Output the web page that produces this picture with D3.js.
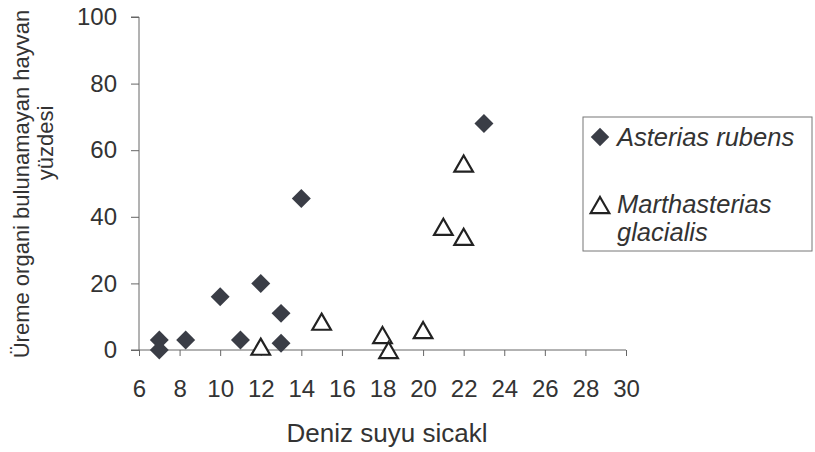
<!DOCTYPE html>
<html><head><meta charset="utf-8">
<script src="https://cdn.jsdelivr.net/npm/d3@7"></script>
<style>body{margin:0;background:#fff}svg{display:block}text{font-family:"Liberation Sans",Arial,sans-serif;fill:#333}</style>
</head><body><svg id="c" width="815" height="452"></svg>
<script>
const asteriasX = [7, 7, 8.3, 10, 11, 12, 13, 13, 14, 23];
const asteriasY = [3, 0, 3, 16, 3, 20, 11, 2, 45.5, 68];
const marthX = [12, 15, 18, 18.3, 20, 21, 22, 22];
const marthY = [1, 8.5, 4.5, 0, 6, 37, 34, 56];
const xTicks = [6, 8, 10, 12, 14, 16, 18, 20, 22, 24, 26, 28, 30];
const yTicks = [0, 20, 40, 60, 80, 100];
const seriesNames = ["Asterias rubens", "Marthasterias", "glacialis"];
const xTitle = "Deniz suyu sicakl";
const yTitle = ["Üreme organi bulunamayan hayvan", "yüzdesi"];

const svg = d3.select("#c");
const x = d3.scaleLinear().domain([6, 30]).range([139, 626]);
const y = d3.scaleLinear().domain([0, 100]).range([350, 17]);
const axisColor = "#666";

const gx = svg.append("g").attr("transform", `translate(0,${y(0)})`)
  .call(d3.axisBottom(x).tickValues(xTicks).tickSize(6).tickPadding(8).tickFormat(d3.format("d")));
gx.select(".domain").attr("stroke", axisColor).attr("d", `M${x(6)-8},0H${x(30)}`);
gx.selectAll(".tick line").attr("stroke", axisColor);
gx.selectAll(".tick text").attr("font-size", 24).attr("dy", null).attr("y", 47).style("fill", "#333");

const gy = svg.append("g").attr("transform", `translate(${x(6)},0)`)
  .call(d3.axisLeft(y).tickValues(yTicks).tickSize(8).tickPadding(14));
gy.select(".domain").attr("stroke", axisColor).attr("d", `M-8,${y(100)}H0V${y(0)}`);
gy.selectAll(".tick line").attr("stroke", axisColor);
gy.selectAll(".tick text").attr("font-size", 24).style("fill", "#333");

const diamond = d3.symbol().type(d3.symbolSquare).size(180);
const tri = d3.symbol().type(d3.symbolTriangle).size(150);
const triShift = Math.sqrt(150 / (3 * Math.sqrt(3))) / 2;

svg.append("g").selectAll("path").data(asteriasX.map((d, i) => [d, asteriasY[i]])).join("path")
  .attr("d", diamond).attr("transform", d => `translate(${x(d[0])},${y(d[1])}) rotate(45)`)
  .attr("fill", "#3a3d46");

svg.append("g").selectAll("path").data(marthX.map((d, i) => [d, marthY[i]])).join("path")
  .attr("d", tri).attr("transform", d => `translate(${x(d[0])},${y(d[1]) + triShift})`)
  .attr("fill", "#fff").attr("stroke", "#222").attr("stroke-width", 2.2);

// legend
const lg = svg.append("g");
lg.append("rect").attr("x", 583).attr("y", 117).attr("width", 229).attr("height", 134)
  .attr("fill", "none").attr("stroke", "#777").attr("stroke-width", 1);
lg.append("path").attr("d", d3.symbol().type(d3.symbolSquare).size(170))
  .attr("transform", "translate(600,137) rotate(45)").attr("fill", "#3a3d46");
lg.append("path").attr("d", d3.symbol().type(d3.symbolTriangle).size(150))
  .attr("transform", `translate(600,${205 + triShift})`).attr("fill", "#fff").attr("stroke", "#222").attr("stroke-width", 2.2);
lg.append("text").attr("x", 617).attr("y", 146).attr("font-size", 25.5).attr("font-style", "italic").text(seriesNames[0]);
lg.append("text").attr("x", 617).attr("y", 213).attr("font-size", 25.5).attr("font-style", "italic").text(seriesNames[1]);
lg.append("text").attr("x", 617).attr("y", 241).attr("font-size", 25.5).attr("font-style", "italic").text(seriesNames[2]);

svg.append("text").attr("x", 387).attr("y", 442).attr("text-anchor", "middle").attr("font-size", 26).text(xTitle);

svg.append("text").attr("transform", "translate(29,184) rotate(-90)").attr("text-anchor", "middle")
  .attr("font-size", 22).text(yTitle[0]);
svg.append("text").attr("transform", "translate(53,143) rotate(-90)").attr("text-anchor", "middle")
  .attr("font-size", 22).text(yTitle[1]);
</script></body></html>
